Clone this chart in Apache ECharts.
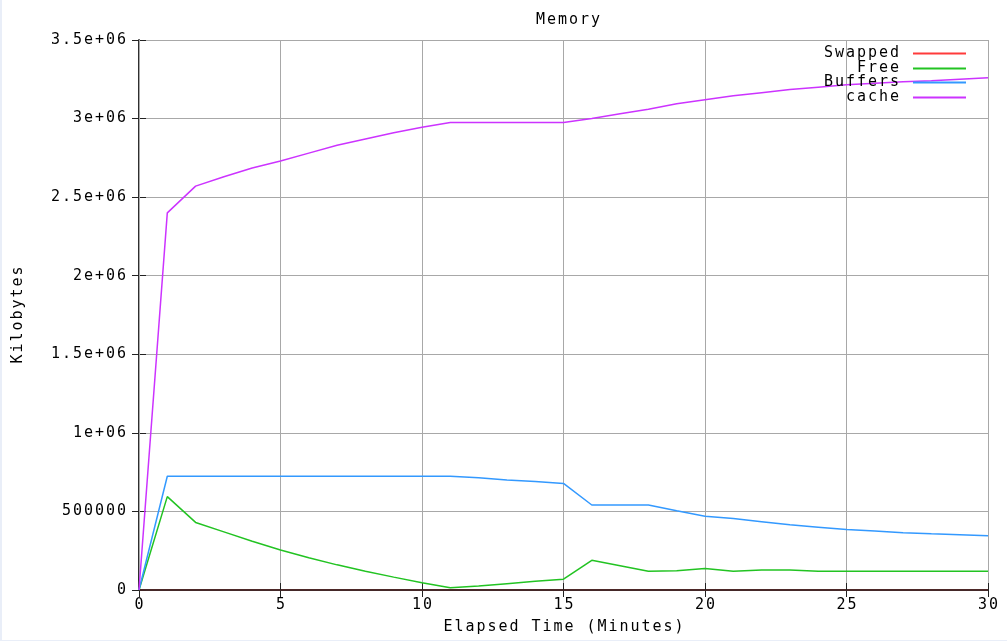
<!DOCTYPE html>
<html>
<head>
<meta charset="utf-8">
<script src="https://cdn.jsdelivr.net/npm/echarts@6/dist/echarts.min.js"></script>
<style>
  html, body { margin: 0; padding: 0; background: #e9eef8; }
  #chart { position: absolute; left: 2px; top: 0; width: 1005px; height: 640px; background: #fff; }
</style>
</head>
<body>
<div id="chart"></div>
<script>
// elapsed minutes
const minutes = [0,1,2,3,4,5,6,7,8,9,10,11,12,13,14,15,16,17,18,19,20,21,22,23,24,25,26,27,28,29,30];

// memory in kilobytes, one value per minute
const swapped = [0,0,0,0,0,0,0,0,0,0,0,0,0,0,0,0,0,0,0,0,0,0,0,0,0,0,0,0,0,0,0];
const free = [0,594000,430000,370000,310000,254000,205000,160000,120000,82000,46000,14000,25000,40000,55000,69000,189000,155000,120000,122000,137000,120000,128000,128000,120000,120000,120000,120000,120000,120000,120000];
const buffers = [0,724000,724000,724000,724000,724000,724000,724000,724000,724000,724000,724000,715000,700000,690000,678000,541000,541000,541000,505000,470000,455000,435000,415000,400000,385000,375000,365000,358000,352000,346000];
const cache = [0,2400000,2570000,2630000,2685000,2730000,2780000,2830000,2870000,2910000,2945000,2975000,2975000,2975000,2975000,2975000,3000000,3030000,3060000,3095000,3120000,3145000,3165000,3185000,3200000,3215000,3225000,3235000,3240000,3250000,3260000];

const seriesNames = ['Swapped', 'Free', 'Buffers', 'cache'];
const seriesColors = ['#ff3b3b', '#22c322', '#3399ff', '#cc33ff'];
const seriesData = [swapped, free, buffers, cache];

const FONT = 'DejaVu Sans Mono';
// gnuplot style wide mono font: give every character an 11px cell
const cell = { width: 11, align: 'center', fontFamily: FONT, fontSize: 15, fontWeight: 'normal', color: '#000', lineHeight: 15 };
const spread = s => s.split('').map(ch => '{c|' + ch + '}').join('');

const fmtY = v => {
  if (v === 0) return '0';
  if (v < 1e6) return String(v);
  return (v / 1e6) + 'e+06';
};

const chart = echarts.init(document.getElementById('chart'), null, { width: 1005, height: 640 });

const legendTops = [46, 61, 75, 90];

const option = {
  animation: false,
  title: {
    text: spread('Memory'),
    left: 561,
    top: 8,
    textAlign: 'center',
    textStyle: { fontWeight: 'normal', rich: { c: cell } }
  },
  legend: seriesNames.map((name, i) => ({
    data: [name],
    right: 41,
    top: legendTops[i],
    padding: 0,
    align: 'right',
    icon: 'rect',
    itemWidth: 53,
    itemHeight: 2,
    selectedMode: false,
    formatter: n => spread(n),
    textStyle: { padding: [0, 8, 0, 0], rich: { c: cell } }
  })),
  grid: { left: 137, width: 849, top: 40, height: 554 },
  xAxis: [
    {
      type: 'value', min: 0, max: 30, interval: 5, position: 'bottom', z: 1,
      name: spread('Elapsed Time (Minutes)'),
      nameLocation: 'middle', nameGap: 30,
      nameTextStyle: { rich: { c: cell } },
      axisLine: { show: true, onZero: false, lineStyle: { color: '#222', width: 1.5 } },
      axisTick: { show: true, inside: true, length: 7, lineStyle: { color: '#222' } },
      axisLabel: { margin: 8, formatter: v => spread(String(v)), rich: { c: cell } },
      splitLine: { show: true, lineStyle: { color: '#a8a8a8', width: 1 } }
    },
    {
      type: 'value', min: 0, max: 30, interval: 5, position: 'top',
      axisLine: { show: true, lineStyle: { color: '#222', width: 1.5 } },
      axisTick: { show: true, inside: true, length: 7, lineStyle: { color: '#222' } },
      axisLabel: { show: false },
      splitLine: { show: false }
    }
  ],
  yAxis: [
    {
      type: 'value', min: 0, max: 3500000, interval: 500000, position: 'left',
      name: spread('Kilobytes'),
      nameLocation: 'middle', nameGap: 113,
      nameTextStyle: { rich: { c: cell } },
      axisLine: { show: true, onZero: false, lineStyle: { color: '#222', width: 1.5 } },
      axisTick: { show: true, inside: true, length: 7, lineStyle: { color: '#222' } },
      axisLabel: { margin: 12, formatter: v => spread(fmtY(v)), rich: { c: cell } },
      splitLine: { show: true, lineStyle: { color: '#a8a8a8', width: 1 } }
    },
    {
      type: 'value', min: 0, max: 3500000, interval: 500000, position: 'right',
      axisLine: { show: true, lineStyle: { color: '#222', width: 1.5 } },
      axisTick: { show: true, inside: true, length: 7, lineStyle: { color: '#222' } },
      axisLabel: { show: false },
      splitLine: { show: false }
    }
  ],
  series: seriesNames.map((name, i) => ({
    name: name,
    type: 'line',
    xAxisIndex: 0,
    yAxisIndex: 0,
    z: i === 0 ? 0 : 2,
    showSymbol: false,
    symbol: 'none',
    color: seriesColors[i],
    lineStyle: { width: 1.5, color: seriesColors[i] },
    data: minutes.map((t, k) => [t, seriesData[i][k]])
  }))
};

chart.setOption(option);
</script>
</body>
</html>
